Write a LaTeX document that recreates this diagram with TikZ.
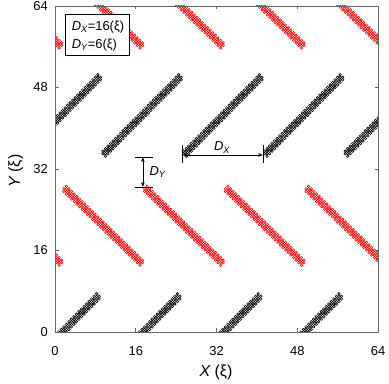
\documentclass[tikz,border=0pt]{standalone}
\usepackage{fontspec}
\setmainfont{Liberation Sans}
\usetikzlibrary{arrows.meta}
\tikzset{
  bmark/.style={draw=black, line width=0.6bp},
  rmark/.style={draw=red, line width=0.6bp},
  frame/.style={draw=black!60, line width=0.8bp},
  tickmark/.style={draw=black!60, line width=0.8bp},
  ticklab/.style={font=\fontsize{13}{15}\selectfont, inner sep=0pt},
  axlab/.style={font=\fontsize{16}{18}\selectfont, inner sep=0pt},
  dimlab/.style={font=\fontsize{13}{15}\selectfont, inner sep=0pt},
  dimline/.style={draw=black, line width=0.6bp},
  dimarrow/.style={draw=black, line width=0.6bp, {Stealth[length=5bp,width=3.6bp]}-{Stealth[length=5bp,width=3.6bp]}},
  legbox/.style={draw=black, fill=white, line width=0.6bp}
}
\newcommand\bstripe[3]{\draw[bmark] foreach \kk in {0,...,#3}{ foreach \ox/\oy in {0/0,0/0.5,-0.5/0.5,-0.5/1}{ ({#1+0.5*\kk+\ox},{#2+0.5*\kk+\oy}) circle[radius=0.25] } };}
\newcommand\rstripe[3]{\draw[rmark] foreach \kk in {0,...,#3}{ foreach \ox/\oy in {0/0,0/-0.5,-0.5/-0.5,-0.5/-1}{ ({#1+0.52*\kk+\ox},{#2-0.5*\kk+\oy}) circle[radius=0.25] } };}
\newcommand\subit[1]{\textsubscript{\itshape #1}}
\begin{document}
\begin{tikzpicture}[x=1bp,y=1bp]
\fill[white] (0,0) rectangle (389,384);
\useasboundingbox (0,0) rectangle (389,384);
\begin{scope}[shift={(55bp,52bp)}, x=5.047bp, y=5.094bp]
  % stripes
  \begin{scope}
    \clip (0,0) rectangle (64,64);
    \foreach \xx in {-6,10,26,42,58} {\bstripe{\xx}{34.5}{30}}
    \foreach \xx in {1.25,17.25,33.25,49.25} {\bstripe{\xx}{-1}{15}}
    \foreach \xx in {-13.75,2.25,18.25,34.25,50.25} {\rstripe{\xx}{28.6}{29}}
    \foreach \xx in {-13.75,2.25,18.25,34.25,50.25} {\rstripe{\xx}{71.25}{29}}
  \end{scope}
  % frame and ticks
  \draw[frame] (0,0) rectangle (64,64);
  \foreach \v in {16,32,48} {
    \draw[tickmark] (\v,0) -- ++(0,3.5bp);
    \draw[tickmark] (\v,64) -- ++(0,-3.5bp);
    \draw[tickmark] (0,\v) -- ++(3.5bp,0);
    \draw[tickmark] (64,\v) -- ++(-3.5bp,0);
  }
  \foreach \v in {0,16,32,48,64} {
    \node[ticklab] (xt\v) at (\v,-3.75) {\v};
    \node[ticklab, anchor=east] (yt\v) at (-1.4,\v) {\v};
  }
  \node[axlab] (xlab) at (31.9,-7.85) {\itshape X\upshape\ (ξ)};
  \node[axlab, rotate=90] (ylab) at (-7.8,31.6) {\itshape Y\upshape\ (ξ)};
  % legend
  \draw[legbox] (1.98,54.4) rectangle (14.66,62.4);
  \node[dimlab, anchor=west] (leg1) at (3.3,59.9) {\itshape D\subit{X}\upshape =16(ξ)};
  \node[dimlab, anchor=west] (leg2) at (3.3,56.3) {\itshape D\subit{Y}\upshape =6(ξ)};
  % D_x dimension
  \coordinate (dxa) at (25.3,34.75);
  \coordinate (dxb) at (41.2,34.75);
  \coordinate (dxat) at (25.3,36.7);
  \coordinate (dxab) at (25.3,33.1);
  \coordinate (dxbt) at (41.2,36.7);
  \coordinate (dxbb) at (41.2,33.1);
  \draw[dimline] (dxat) -- (dxab);
  \draw[dimline] (dxbt) -- (dxbb);
  \draw[dimarrow] (dxa) -- (dxb);
  \node[dimlab] (dxlab) at (33.1,36.2) {\itshape D\subit{X}};
  % D_y dimension
  \coordinate (dya) at (17.4,28.46);
  \coordinate (dyb) at (17.4,34.35);
  \coordinate (dyal) at (15.8,28.46);
  \coordinate (dyar) at (19.4,28.46);
  \coordinate (dybl) at (15.8,34.35);
  \coordinate (dybr) at (19.4,34.35);
  \draw[dimline] (dyal) -- (dyar);
  \draw[dimline] (dybl) -- (dybr);
  \draw[dimarrow] (dya) -- (dyb);
  \node[dimlab] (dylab) at (20.3,31.4) {\itshape D\subit{Y}};
\end{scope}
\end{tikzpicture}
\end{document}
